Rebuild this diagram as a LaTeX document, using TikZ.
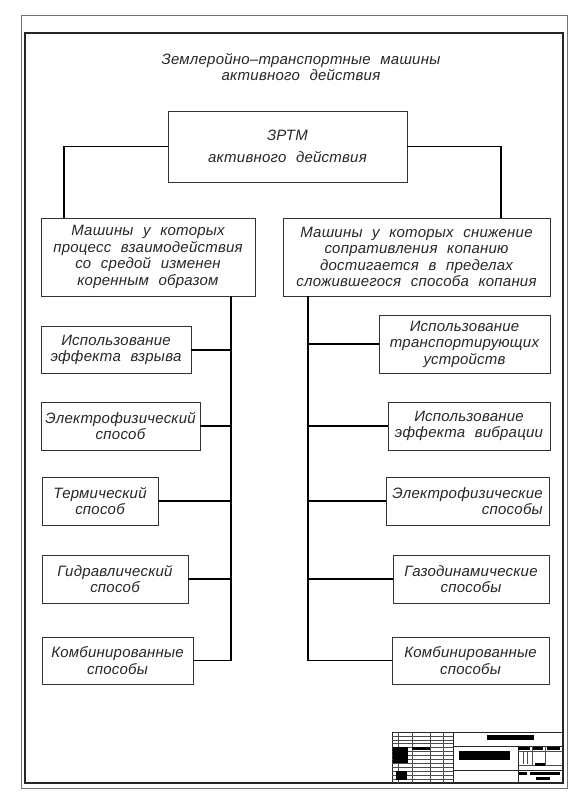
\documentclass[tikz,border=0pt]{standalone}
\usepackage{fontspec}
\setmainfont{Liberation Sans}
\newfontfamily\gostfont{Liberation Sans}[LetterSpace=1.5,WordSpace=2.2]
\usetikzlibrary{calc}

\begin{document}
\begin{tikzpicture}[x=1pt,y=-1pt,
                blok/.style 2 args={draw=black!80,line width=0.9pt,minimum width=#1,minimum height=#2,
                    inner sep=0pt,align=center,text=black!85,
                    font=\gostfont\itshape\fontsize{15}{16.5}\selectfont},
                svyaz/.style={draw=black,line width=1.2pt},
                tonk/.style={draw=black!70,line width=0.6pt}]
                \useasboundingbox (0,0) rectangle (580,800);
                % ramka
                \draw[draw=black!55,line width=0.8pt] (21,15) rectangle (567,788);
                \draw[draw=black!85,line width=1.6pt] (25,33) rectangle (563,783);
                \node[text=black!85,align=center,font=\gostfont\itshape\fontsize{15}{16.5}\selectfont] (zag) at (301,67)
                    {Землеройно–транспортные машины\\активного действия};
                \node[blok={239}{71},font=\gostfont\itshape\fontsize{15}{22}\selectfont] (zrtm) at (287.5,146.5) {ЗРТМ\\активного действия};
                % levaya vetv
                \node[blok={214}{78}] (L0) at (148,257)
                    {Машины у которых\\процесс взаимодействия\\со средой изменен\\коренным образом};
                \node[blok={150}{47}] (L1) at (116,350) {Использование\\эффекта взрыва};
                \node[blok={159}{48}] (L2) at (120.5,426) {Электрофизический\\способ};
                \node[blok={116}{48}] (L3) at (100,501) {Термический\\способ};
                \node[blok={146}{48}] (L4) at (115,579) {Гидравлический\\способ};
                \node[blok={151}{47}] (L5) at (117.5,660.5) {Комбинированные\\способы};
                % pravaya vetv
                \node[blok={267}{78}] (R0) at (416.5,257)
                    {Машины у которых снижение\\сопративления копанию\\достигается в пределах\\сложившегося способа копания};
                \node[blok={171}{58}] (R1) at (464.5,344) {Использование\\транспортирующих\\устройств};
                \node[blok={162}{48}] (R2) at (469,426) {Использование\\эффекта вибрации};
                \node[blok={163}{48},align=right] (R3) at (467.5,501) {Электрофизические\\способы};
                \node[blok={156}{48}] (R4) at (471,579) {Газодинамические\\способы};
                \node[blok={157}{47}] (R5) at (470.5,660.5) {Комбинированные\\способы};
                % svyazi
                \coordinate (lj) at (64,218);
                \coordinate (rj) at (501,218);
                \coordinate (ltr) at (231,296);
                \coordinate (rtr) at (308,296);
                \draw[svyaz] (zrtm.west) -| (lj);
                \draw[svyaz] (zrtm.east) -| (rj);
                \draw[svyaz] (ltr) |- (L5.east);
                \draw[svyaz] (rtr) |- (R5.west);
                \foreach \b in {L1,L2,L3,L4}
                    \draw[svyaz] (\b.east) -- (\b.east -| ltr);
                \foreach \b in {R1,R2,R3,R4}
                    \draw[svyaz] (\b.west) -- (\b.west -| rtr);
                % shtamp
                \draw[draw=black!85,line width=1pt] (392,732) rectangle (563,783);
                \draw[draw=black!85,line width=1pt] (453,732) -- (453,783);
                \draw[draw=black!85,line width=1pt] (518,746) -- (518,783);
                \draw[draw=black!85,line width=1pt] (453,746) -- (563,746);
                \draw[draw=black!85,line width=1pt] (453,770) -- (563,770);
                \foreach \k in {1,...,12}
                    \draw[tonk] (392,{732+\k*3.92}) -- (453,{732+\k*3.92});
                \foreach \xx in {398,412,430,443}
                    \draw[tonk] (\xx,732) -- (\xx,783);
                \draw[tonk] (518,765) -- (563,765);
                \draw[tonk] (518,751) -- (563,751);
                \draw[tonk] (532,746) -- (532,765);
                \draw[tonk] (545,746) -- (545,765);
                \draw[tonk] (523,752) -- (523,764);
                \draw[tonk] (527,752) -- (527,764);
                \fill[black] (487,735) rectangle (534,740);
                \fill[black] (459,751) rectangle (510,760);
                \fill[black] (393,747) rectangle (408,763);
                \fill[black] (412,746.5) rectangle (430,749.5);
                \fill[black] (396,771) rectangle (407,780);
                \fill[black] (518,747) rectangle (530,749.5);
                \fill[black] (533,747) rectangle (543,749.5);
                \fill[black] (547,747) rectangle (560,749.5);
                \fill[black] (519,772) rectangle (527,775);
                \fill[black] (530,772) rectangle (560,775);
                \fill[black] (536,777) rectangle (550,780);
                \fill[black] (535,763) rectangle (545,766);
\end{tikzpicture}
\end{document}
